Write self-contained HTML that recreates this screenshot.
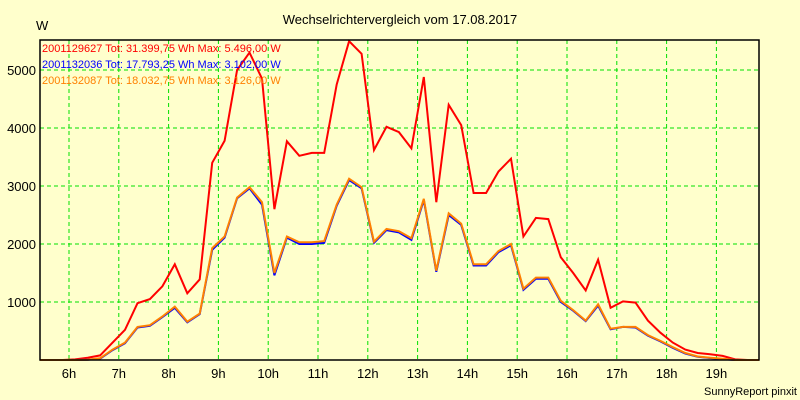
<!DOCTYPE html>
<html><head><meta charset="utf-8"><style>
html,body{margin:0;padding:0;background:#ffffcc;}
svg{display:block;font-family:"Liberation Sans",Arial,sans-serif;}
</style></head><body>
<svg id="chart" width="800" height="400" viewBox="0 0 800 400" xmlns="http://www.w3.org/2000/svg">
<rect x="0" y="0" width="800" height="400" fill="#ffffcc"/>
<text x="400" y="24" font-size="13" text-anchor="middle" fill="#000">Wechselrichtervergleich vom 17.08.2017</text>
<text x="36" y="30" font-size="13" fill="#000">W</text>
<g id="grid"></g>
<g id="series"></g>
<rect x="40" y="40" width="719" height="320" fill="none" stroke="#000" stroke-width="1.5"/>
<g id="labels"></g>
<text x="42" y="52" font-size="11" fill="#ff0000">2001129627 Tot: 31.399,75 Wh Max: 5.496,00 W</text>
<text x="42" y="68" font-size="11" fill="#0000ff">2001132036 Tot: 17.793,25 Wh Max: 3.102,00 W</text>
<text x="42" y="84" font-size="11" fill="#ff8000">2001132087 Tot: 18.032,75 Wh Max: 3.126,00 W</text>
<text x="797" y="395" font-size="11" text-anchor="end" fill="#000">SunnyReport pinxit</text>
</svg>
<script>
const startTime = 5.625;
const stepHours = 0.25;
const redValues = [0,0,10,40,80,300,520,980,1050,1270,1650,1150,1390,3400,3780,5000,5300,4850,2600,3770,3520,3570,3570,4750,5496,5280,3620,4020,3930,3650,4880,2720,4400,4050,2880,2880,3250,3470,2130,2450,2430,1770,1500,1200,1730,900,1010,990,680,470,300,180,120,100,70,10,0];
const blueValues = [0,0,0,5,25,170,290,560,590,740,900,650,790,1900,2110,2790,2960,2680,1460,2110,2000,2000,2020,2660,3102,2960,2020,2240,2200,2070,2760,1520,2500,2330,1630,1630,1860,1980,1210,1400,1400,1000,850,670,940,530,570,560,420,320,210,110,55,35,15,0,0];
const orangeValues = [0,0,0,5,30,180,300,570,600,750,920,660,800,1930,2130,2800,2980,2720,1500,2130,2030,2030,2050,2680,3126,2980,2040,2260,2220,2100,2780,1540,2530,2350,1650,1650,1880,2000,1230,1420,1420,1020,860,680,960,540,570,570,430,330,220,120,60,40,20,0,0];
const hourTicks = ["6h","7h","8h","9h","10h","11h","12h","13h","14h","15h","16h","17h","18h","19h"];
const hourValues = [6,7,8,9,10,11,12,13,14,15,16,17,18,19];
const yTicks = [1000,2000,3000,4000,5000];

const NS = "http://www.w3.org/2000/svg";
function xScale(t){ return 69 + (t - 6) * 49.8; }
function yScale(v){ return 360 - v * 0.058; }
const grid = document.getElementById('grid');
const labels = document.getElementById('labels');
hourValues.forEach((h,i)=>{
  const l = document.createElementNS(NS,'line');
  
  
  const x = xScale(h);
  l.setAttribute('x1',x);l.setAttribute('x2',x);l.setAttribute('y1',40);l.setAttribute('y2',360);
  l.setAttribute('stroke','#00e000');l.setAttribute('stroke-dasharray','4,3');
  grid.appendChild(l);
  const t = document.createElementNS(NS,'text');
  
  
  t.setAttribute('x',x);t.setAttribute('y',378);t.setAttribute('font-size','13');t.setAttribute('text-anchor','middle');
  t.textContent = hourTicks[i];
  labels.appendChild(t);
});
yTicks.forEach(v=>{
  const l = document.createElementNS(NS,'line');
  
  
  const y = yScale(v);
  l.setAttribute('x1',40);l.setAttribute('x2',759);l.setAttribute('y1',y);l.setAttribute('y2',y);
  l.setAttribute('stroke','#00e000');l.setAttribute('stroke-dasharray','4,3');
  grid.appendChild(l);
  const t = document.createElementNS(NS,'text');
  
  
  t.setAttribute('x',36);t.setAttribute('y',y+5);t.setAttribute('font-size','13');t.setAttribute('text-anchor','end');
  t.textContent = v;
  labels.appendChild(t);
});
const series = document.getElementById('series');
function drawLine(vals, color, name){
  let pts = [[40, yScale(0)]];
  vals.forEach((v,i)=>{ const x = xScale(startTime + i*stepHours); if(x<=759) pts.push([x, yScale(v)]); });
  pts.push([759, yScale(0)]);
  const p = document.createElementNS(NS,'polyline');
  
  
  p.setAttribute('points', pts.map(q=>q[0].toFixed(1)+','+q[1].toFixed(1)).join(' '));
  p.setAttribute('fill','none');p.setAttribute('stroke',color);p.setAttribute('stroke-width','2');
  series.appendChild(p);
}
drawLine(redValues,'#ff0000','series-2001129627');
drawLine(blueValues,'#0000ff','series-2001132036');
drawLine(orangeValues,'#ff8000','series-2001132087');
</script>
</body></html>
